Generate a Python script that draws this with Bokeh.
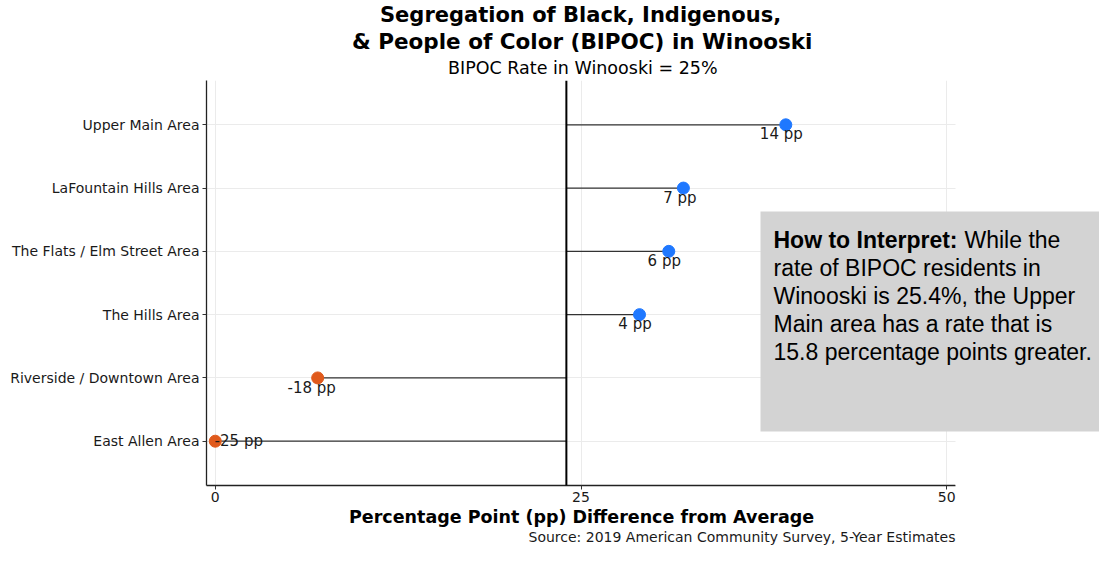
from bokeh.plotting import figure
from bokeh.models import (ColumnDataSource, FactorRange, Range1d, FixedTicker,
                          Span, Label, Title, BoxAnnotation)
from bokeh.embed import file_html
from bokeh.resources import INLINE
from bokeh.core.properties import value

# ---------------- data ----------------
areas = ["Upper Main Area", "LaFountain Hills Area", "The Flats / Elm Street Area",
         "The Hills Area", "Riverside / Downtown Area", "East Allen Area"]
rates = [39.0, 32.0, 31.0, 29.0, 7.0, 0.0]
diff_labels = ["14 pp", "7 pp", "6 pp", "4 pp", "-18 pp", "-25 pp"]
average_rate = 24.0
x_ticks = [0, 25, 50]
x_limits = (-0.6, 50.6)

title_line1 = "Segregation of Black, Indigenous,"
title_line2 = "& People of Color (BIPOC) in Winooski"
subtitle = "BIPOC Rate in Winooski = 25%"
x_label = "Percentage Point (pp) Difference from Average"
source_note = "Source: 2019 American Community Survey, 5-Year Estimates"
note_bold = "How to Interpret:"
note_lines = ["While the", "rate of BIPOC residents in", "Winooski is 25.4%, the Upper",
              "Main area has a rate that is", "15.8 percentage points greater."]

# ---------------- styling / layout ----------------
BLUE = "#1f78ff"
ORANGE = "#e05a1c"
TXT = "#1a1a1a"
FONT = "DejaVu Sans"
NOTE_FONT = "Liberation Sans"

W, H = 1099, 547
ML, MT, MB = 206, 80, 62
PANEL_RIGHT = 955            # right edge of the drawing panel (px)
FB = H - MB                  # frame bottom (px)

colors = [BLUE if r >= average_rate else ORANGE for r in rates]
dx = [-4.5, -3.5, -4.5, -4.5, -6, 23.5]
dy = [9, 9.5, 10, 9, 10, 0]

src = ColumnDataSource(dict(area=areas, rate=rates, lab=diff_labels, color=colors,
                            avg=[average_rate] * len(areas), dx=dx, dy=dy))

# frame extends to the figure's right edge so the note box can overflow the panel
x_end = x_limits[0] + (x_limits[1] - x_limits[0]) * (W - ML) / (PANEL_RIGHT - ML)

p = figure(width=W, height=H, output_backend="svg", toolbar_location=None,
           x_range=Range1d(x_limits[0], x_end),
           y_range=FactorRange(factors=list(reversed(areas)), range_padding=0.2,
                               range_padding_units="absolute"),
           min_border_left=ML, min_border_right=0, min_border_top=MT,
           min_border_bottom=MB)
p.outline_line_color = None
p.background_fill_color = "white"

# grid
p.xgrid.ticker = FixedTicker(ticks=x_ticks)
p.xgrid.grid_line_color = "#ebebeb"
p.ygrid.grid_line_color = "#ebebeb"

# axes
p.xaxis.ticker = FixedTicker(ticks=x_ticks)
p.xaxis.bounds = x_limits
for ax in (p.xaxis[0], p.yaxis[0]):
    ax.axis_line_color = "#222222"
    ax.axis_line_width = 1.3
    ax.major_tick_line_color = "#333333"
    ax.major_tick_out = 4
    ax.major_tick_in = 0
    ax.minor_tick_line_color = None
    ax.major_label_text_font = FONT
    ax.major_label_text_font_size = "14px"
    ax.major_label_text_color = TXT
p.yaxis.major_label_standoff = 3
p.xaxis.major_label_standoff = 2

# white mask to the right of the panel (hides grid lines there)
p.add_layout(BoxAnnotation(left=x_limits[1], fill_color="white", fill_alpha=1.0,
                           line_color=None))

# lollipops
p.segment(x0="avg", y0="area", x1="rate", y1="area", source=src,
          line_color="#333333", line_width=1.3)
p.add_layout(Span(location=average_rate, dimension="height", line_color="black",
                  line_width=2))
p.scatter(x="rate", y="area", size=12, fill_color="color", line_color="color", source=src)
p.text(x="rate", y="area", text="lab", source=src, x_offset="dx", y_offset="dy",
       text_font=value(FONT), text_font_size="15px", text_color=TXT,
       text_align="center", text_baseline="middle")


# titles: left-aligned with an offset so they are centred over the panel
def left_offset(center_px, text_w):
    return center_px - text_w / 2 - ML


p.title.text = title_line1
p.title.text_font = FONT
p.title.text_font_size = "21px"
p.title.text_font_style = "bold"
p.title.text_color = "black"
p.title.align = "left"
p.title.offset = left_offset(579, 399)
p.title.standoff = 0
p.add_layout(Title(text=subtitle, text_font=FONT, text_font_size="17.5px",
                   text_font_style="normal", text_color="black", align="left",
                   offset=left_offset(581.5, 268), standoff=5), "above")
p.add_layout(Title(text=title_line2, text_font=FONT, text_font_size="21.5px",
                   text_font_style="bold", text_color="black", align="left",
                   offset=left_offset(581, 459), standoff=0), "above")
p.add_layout(Title(text=x_label, text_font=FONT, text_font_size="17.5px",
                   text_font_style="bold", text_color="black", align="left",
                   offset=left_offset(581, 465), standoff=0), "below")
p.add_layout(Title(text=source_note, text_font=FONT, text_font_size="14px",
                   text_font_style="normal", text_color=TXT, align="right",
                   offset=W - PANEL_RIGHT, standoff=0), "below")


# interpretation box (screen units relative to the plot frame)
def fx(cx):
    return cx - ML


def fy(cy):
    return FB - cy


box_l, box_t, box_b = 760, 211, 431
p.add_layout(BoxAnnotation(left=fx(box_l), left_units="screen",
                           top=fy(box_t), top_units="screen",
                           bottom=fy(box_b), bottom_units="screen",
                           fill_color="#d3d3d3", fill_alpha=1.0, line_color=None))
NOTE_SIZE = "23px"
line_y = [239, 267, 295, 323, 351]
text_left = 773
p.add_layout(Label(x=fx(text_left), y=fy(line_y[0]), x_units="screen", y_units="screen",
                   text=note_bold, text_font=NOTE_FONT, text_font_size=NOTE_SIZE,
                   text_font_style="bold", text_color="black",
                   text_align="left", text_baseline="middle"))
p.add_layout(Label(x=fx(text_left + 191), y=fy(line_y[0]), x_units="screen",
                   y_units="screen", text=note_lines[0], text_font=NOTE_FONT,
                   text_font_size=NOTE_SIZE, text_color="black", text_align="left",
                   text_baseline="middle"))
for i in range(1, 5):
    p.add_layout(Label(x=fx(text_left), y=fy(line_y[i]), x_units="screen", y_units="screen",
                       text=note_lines[i], text_font=NOTE_FONT, text_font_size=NOTE_SIZE,
                       text_color="black", text_align="left", text_baseline="middle"))

open("out.html", "w").write(file_html(p, INLINE))
